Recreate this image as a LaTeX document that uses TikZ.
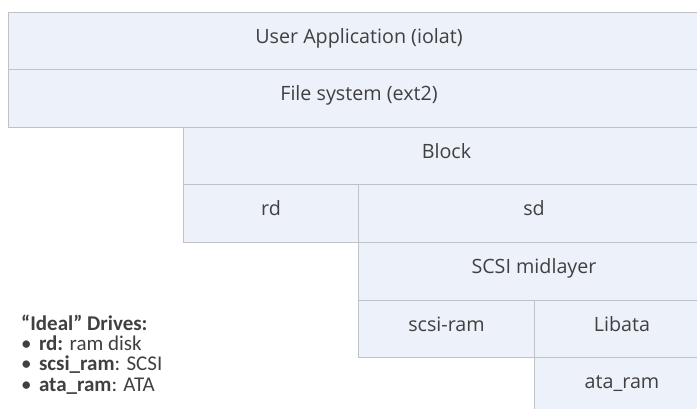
\documentclass[tikz,border=0pt]{standalone}
\usepackage{fontspec}
\setmainfont{Open Sans}
\newfontfamily\legendfont{Carlito}
\definecolor{boxfill}{HTML}{EDF1FA}
\definecolor{edge}{HTML}{BFC2C8}
\definecolor{ink}{HTML}{404040}
\newcommand{\bul}{•\hspace{0.35em}}
\begin{document}
\begin{tikzpicture}[x=1pt, y=-1pt,
  layer/.style={rectangle, draw=edge, fill=boxfill, line width=1pt,
    inner sep=0pt, anchor=north west, minimum height=57.5pt,
    text=ink, font=\fontsize{19.7}{22}\selectfont,
    text height=13pt, text depth=8.5pt},
  legend/.style={anchor=base west, align=left, inner sep=0pt, text=ink,
    font=\legendfont\fontsize{21}{20.3}\selectfont}]
\useasboundingbox (0,0) rectangle (697,409);
\clip (0,0) rectangle (697,409);

% software stack, top to bottom
\node[layer, minimum width=701pt] (app)     at (8,12)      {User Application (iolat)};
\node[layer, minimum width=701pt] (fs)      at (8,69.5)    {File system (ext2)};
\node[layer, minimum width=526pt] (block)   at (183,127)   {Block};
\node[layer, minimum width=175pt] (rd)      at (183,184.5) {rd};
\node[layer, minimum width=351pt] (sd)      at (358,184.5) {sd};
\node[layer, minimum width=351pt] (mid)     at (358,242)   {SCSI midlayer};
\node[layer, minimum width=176pt] (scsiram) at (358,299.5) {scsi-ram};
\node[layer, minimum width=175pt] (libata)  at (534,299.5) {Libata};
\node[layer, minimum width=175pt] (ataram)  at (534,357)   {ata\_ram};

% legend (anchored on its last baseline)
\node[legend] (key) at (21,391) {\textbf{“Ideal” Drives:}\\
  \bul\textbf{rd:} ram disk\\
  \bul\textbf{scsi\_ram}: SCSI\\
  \bul\textbf{ata\_ram}: ATA};
\end{tikzpicture}
\end{document}
